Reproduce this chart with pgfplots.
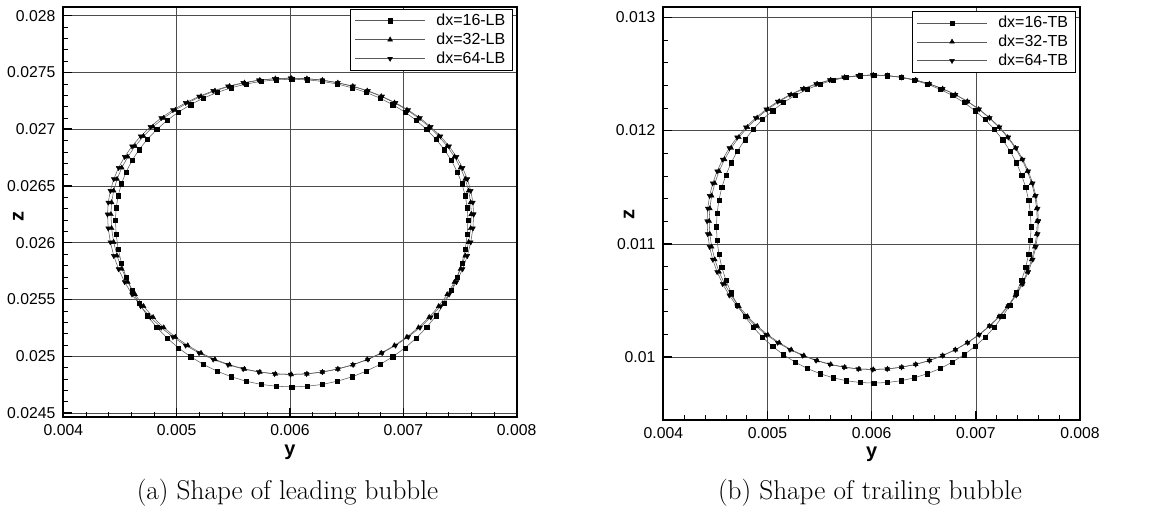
\documentclass[border=0pt]{standalone}
\usepackage{fontspec}
\usepackage{pgfplots}
\pgfplotsset{compat=1.18}
\newfontfamily\arial{Liberation Sans}
\pgfplotsset{
  bubax/.style={
    scale only axis,
    anchor=south west,
    xmin=0.004, xmax=0.008,
    xtick={0.004,0.005,0.006,0.007,0.008},
    minor x tick num=4, minor y tick num=4,
    tick align=inside, tick pos=left,
    grid=major,
    major grid style={black!70, line width=0.4pt},
    axis line style={line width=1.3pt},
    major tick style={line width=1.1pt, black},
    minor tick style={line width=0.4pt, black},
    major tick length=6.5pt, minor tick length=3.6pt,
    scaled ticks=false,
    tick label style={font=\arial\fontsize{11.8}{13}\selectfont},
    xticklabel style={yshift=-2pt},
    yticklabel style={xshift=-2.5pt},
    /pgf/number format/assume math mode=true,
    /pgf/number format/fixed, /pgf/number format/precision=4,
    label style={font=\arial\bfseries\fontsize{15}{17}\selectfont},
    xlabel={y}, ylabel={z},
    legend cell align=left,
    legend style={anchor=north east, draw=black, line width=0.6pt, fill=white,
      font=\arial\fontsize{12}{13}\selectfont, inner xsep=3.5pt, inner ysep=1.5pt,
      row sep=0pt,
      /tikz/every odd column/.append style={column sep=6.5pt}},
    legend image code/.code={\draw[mark repeat=2,mark phase=2,#1] plot coordinates {(0pt,0pt) (26pt,0pt) (52pt,0pt)};},
  },
  ser/.style={black!65, line width=0.4pt},
  s16/.style={ser, mark=square*, mark size=1.6pt, mark options={solid, fill=black, draw=black, line width=0.3pt}},
  s32/.style={ser, mark=triangle*, mark size=2.1pt, mark options={solid, fill=black, draw=black, line width=0.3pt}},
  s64/.style={ser, mark=triangle*, mark size=2.1pt, mark options={solid, fill=black, draw=black, line width=0.3pt, rotate=180}},
}
\begin{document}
\begin{tikzpicture}
\path[use as bounding box] (0,0) rectangle (861.75pt,390.75pt);
\begin{axis}[bubax,
  at={(47.5pt,78pt)}, width=340pt, height=307.3pt,
  ymin=0.024465, ymax=0.028074,
  ytick={0.0245,0.025,0.0255,0.026,0.0265,0.027,0.0275,0.028},
  xlabel style={at={(axis description cs:0.5,-0.085)}, anchor=center},
  ylabel style={at={(axis description cs:-0.099,0.49)}, anchor=center},
  legend style={at={(axis description cs:0.992,0.996)}},
]
\addplot[s16] table {
0.007570 0.026200
0.007564 0.026308
0.007546 0.026415
0.007517 0.026521
0.007476 0.026624
0.007424 0.026724
0.007362 0.026820
0.007289 0.026911
0.007206 0.026997
0.007115 0.027077
0.007015 0.027150
0.006907 0.027216
0.006793 0.027274
0.006672 0.027324
0.006547 0.027365
0.006417 0.027398
0.006285 0.027421
0.006151 0.027435
0.006015 0.027440
0.005879 0.027435
0.005745 0.027421
0.005613 0.027398
0.005483 0.027365
0.005358 0.027324
0.005237 0.027274
0.005123 0.027216
0.005015 0.027150
0.004915 0.027077
0.004824 0.026997
0.004741 0.026911
0.004668 0.026820
0.004606 0.026724
0.004554 0.026624
0.004513 0.026521
0.004484 0.026415
0.004466 0.026308
0.004460 0.026200
0.004466 0.026072
0.004484 0.025945
0.004513 0.025820
0.004554 0.025697
0.004606 0.025579
0.004668 0.025465
0.004741 0.025357
0.004824 0.025255
0.004915 0.025161
0.005015 0.025074
0.005123 0.024996
0.005237 0.024927
0.005358 0.024868
0.005483 0.024819
0.005613 0.024780
0.005745 0.024752
0.005879 0.024736
0.006015 0.024730
0.006151 0.024736
0.006285 0.024752
0.006417 0.024780
0.006547 0.024819
0.006672 0.024868
0.006793 0.024927
0.006907 0.024996
0.007015 0.025074
0.007115 0.025161
0.007206 0.025255
0.007289 0.025357
0.007362 0.025465
0.007424 0.025579
0.007476 0.025697
0.007517 0.025820
0.007546 0.025945
0.007564 0.026072
0.007570 0.026200
};
\addlegendentry{dx=16-LB}
\addplot[s32] table {
0.007600 0.026250
0.007594 0.026355
0.007576 0.026458
0.007546 0.026561
0.007504 0.026660
0.007451 0.026757
0.007387 0.026850
0.007312 0.026938
0.007228 0.027021
0.007134 0.027099
0.007032 0.027169
0.006922 0.027233
0.006805 0.027289
0.006682 0.027338
0.006554 0.027378
0.006422 0.027409
0.006286 0.027432
0.006149 0.027445
0.006010 0.027450
0.005871 0.027445
0.005734 0.027432
0.005598 0.027409
0.005466 0.027378
0.005338 0.027338
0.005215 0.027289
0.005098 0.027233
0.004988 0.027169
0.004886 0.027099
0.004792 0.027021
0.004708 0.026938
0.004633 0.026850
0.004569 0.026757
0.004516 0.026660
0.004474 0.026561
0.004444 0.026458
0.004426 0.026355
0.004420 0.026250
0.004426 0.026127
0.004444 0.026005
0.004474 0.025885
0.004516 0.025768
0.004569 0.025654
0.004633 0.025545
0.004708 0.025441
0.004792 0.025344
0.004886 0.025253
0.004988 0.025170
0.005098 0.025095
0.005215 0.025029
0.005338 0.024972
0.005466 0.024925
0.005598 0.024888
0.005734 0.024861
0.005871 0.024845
0.006010 0.024840
0.006149 0.024845
0.006286 0.024861
0.006422 0.024888
0.006554 0.024925
0.006682 0.024972
0.006805 0.025029
0.006922 0.025095
0.007032 0.025170
0.007134 0.025253
0.007228 0.025344
0.007312 0.025441
0.007387 0.025545
0.007451 0.025654
0.007504 0.025768
0.007546 0.025885
0.007576 0.026005
0.007594 0.026127
0.007600 0.026250
};
\addlegendentry{dx=32-LB}
\addplot[s64] table {
0.007620 0.026250
0.007614 0.026355
0.007595 0.026458
0.007565 0.026561
0.007523 0.026660
0.007469 0.026757
0.007404 0.026850
0.007328 0.026938
0.007242 0.027021
0.007147 0.027099
0.007043 0.027169
0.006931 0.027233
0.006813 0.027289
0.006688 0.027338
0.006557 0.027378
0.006423 0.027409
0.006285 0.027432
0.006146 0.027445
0.006005 0.027450
0.005864 0.027445
0.005725 0.027432
0.005587 0.027409
0.005453 0.027378
0.005322 0.027338
0.005197 0.027289
0.005079 0.027233
0.004967 0.027169
0.004863 0.027099
0.004768 0.027021
0.004682 0.026938
0.004606 0.026850
0.004541 0.026757
0.004487 0.026660
0.004445 0.026561
0.004415 0.026458
0.004396 0.026355
0.004390 0.026250
0.004396 0.026127
0.004415 0.026005
0.004445 0.025885
0.004487 0.025768
0.004541 0.025654
0.004606 0.025545
0.004682 0.025441
0.004768 0.025344
0.004863 0.025253
0.004967 0.025170
0.005079 0.025095
0.005197 0.025029
0.005322 0.024972
0.005453 0.024925
0.005587 0.024888
0.005725 0.024861
0.005864 0.024845
0.006005 0.024840
0.006146 0.024845
0.006285 0.024861
0.006423 0.024888
0.006557 0.024925
0.006688 0.024972
0.006813 0.025029
0.006931 0.025095
0.007043 0.025170
0.007147 0.025253
0.007242 0.025344
0.007328 0.025441
0.007404 0.025545
0.007469 0.025654
0.007523 0.025768
0.007565 0.025885
0.007595 0.026005
0.007614 0.026127
0.007620 0.026250
};
\addlegendentry{dx=64-LB}
\end{axis}
\begin{axis}[bubax,
  at={(497.5pt,75.75pt)}, width=312.5pt, height=309.5pt,
  ymin=0.009444, ymax=0.013088,
  ytick={0.01,0.011,0.012,0.013},
  xlabel style={at={(axis description cs:0.5,-0.082)}, anchor=center},
  ylabel style={at={(axis description cs:-0.082,0.498)}, anchor=center},
  legend style={at={(axis description cs:0.99,0.991)}},
]
\addplot[s16] table {
0.007530 0.011150
0.007524 0.011267
0.007507 0.011383
0.007479 0.011497
0.007439 0.011608
0.007389 0.011716
0.007328 0.011820
0.007257 0.011919
0.007177 0.012011
0.007088 0.012098
0.006991 0.012176
0.006886 0.012248
0.006775 0.012310
0.006658 0.012364
0.006536 0.012409
0.006411 0.012444
0.006282 0.012470
0.006152 0.012485
0.006020 0.012490
0.005888 0.012485
0.005758 0.012470
0.005629 0.012444
0.005504 0.012409
0.005382 0.012364
0.005265 0.012310
0.005154 0.012248
0.005049 0.012176
0.004952 0.012098
0.004863 0.012011
0.004783 0.011919
0.004712 0.011820
0.004651 0.011716
0.004601 0.011608
0.004561 0.011497
0.004533 0.011383
0.004516 0.011267
0.004510 0.011150
0.004516 0.011030
0.004533 0.010910
0.004561 0.010793
0.004601 0.010678
0.004651 0.010567
0.004712 0.010460
0.004783 0.010358
0.004863 0.010263
0.004952 0.010174
0.005049 0.010093
0.005154 0.010020
0.005265 0.009955
0.005382 0.009899
0.005504 0.009853
0.005629 0.009817
0.005758 0.009791
0.005888 0.009775
0.006020 0.009770
0.006152 0.009775
0.006282 0.009791
0.006411 0.009817
0.006536 0.009853
0.006658 0.009899
0.006775 0.009955
0.006886 0.010020
0.006991 0.010093
0.007088 0.010174
0.007177 0.010263
0.007257 0.010358
0.007328 0.010460
0.007389 0.010567
0.007439 0.010678
0.007479 0.010793
0.007507 0.010910
0.007524 0.011030
0.007530 0.011150
};
\addlegendentry{dx=16-TB}
\addplot[s32] table {
0.007590 0.011200
0.007584 0.011312
0.007566 0.011424
0.007536 0.011534
0.007495 0.011641
0.007442 0.011745
0.007379 0.011845
0.007305 0.011940
0.007222 0.012029
0.007129 0.012112
0.007027 0.012188
0.006918 0.012257
0.006803 0.012317
0.006681 0.012369
0.006554 0.012412
0.006423 0.012446
0.006289 0.012470
0.006152 0.012485
0.006015 0.012490
0.005878 0.012485
0.005741 0.012470
0.005607 0.012446
0.005476 0.012412
0.005349 0.012369
0.005227 0.012317
0.005112 0.012257
0.005003 0.012188
0.004901 0.012112
0.004808 0.012029
0.004725 0.011940
0.004651 0.011845
0.004588 0.011745
0.004535 0.011641
0.004494 0.011534
0.004464 0.011424
0.004446 0.011312
0.004440 0.011200
0.004446 0.011086
0.004464 0.010973
0.004494 0.010861
0.004535 0.010752
0.004588 0.010646
0.004651 0.010545
0.004725 0.010449
0.004808 0.010358
0.004901 0.010274
0.005003 0.010196
0.005112 0.010127
0.005227 0.010065
0.005349 0.010013
0.005476 0.009969
0.005607 0.009935
0.005741 0.009910
0.005878 0.009895
0.006015 0.009890
0.006152 0.009895
0.006289 0.009910
0.006423 0.009935
0.006554 0.009969
0.006681 0.010013
0.006803 0.010065
0.006918 0.010127
0.007027 0.010196
0.007129 0.010274
0.007222 0.010358
0.007305 0.010449
0.007379 0.010545
0.007442 0.010646
0.007495 0.010752
0.007536 0.010861
0.007566 0.010973
0.007584 0.011086
0.007590 0.011200
};
\addlegendentry{dx=32-TB}
\addplot[s64] table {
0.007600 0.011200
0.007594 0.011312
0.007576 0.011424
0.007546 0.011534
0.007504 0.011641
0.007451 0.011745
0.007387 0.011845
0.007312 0.011940
0.007228 0.012029
0.007134 0.012112
0.007032 0.012188
0.006922 0.012257
0.006805 0.012317
0.006682 0.012369
0.006554 0.012412
0.006422 0.012446
0.006286 0.012470
0.006149 0.012485
0.006010 0.012490
0.005871 0.012485
0.005734 0.012470
0.005598 0.012446
0.005466 0.012412
0.005338 0.012369
0.005215 0.012317
0.005098 0.012257
0.004988 0.012188
0.004886 0.012112
0.004792 0.012029
0.004708 0.011940
0.004633 0.011845
0.004569 0.011745
0.004516 0.011641
0.004474 0.011534
0.004444 0.011424
0.004426 0.011312
0.004420 0.011200
0.004426 0.011086
0.004444 0.010973
0.004474 0.010861
0.004516 0.010752
0.004569 0.010646
0.004633 0.010545
0.004708 0.010449
0.004792 0.010358
0.004886 0.010274
0.004988 0.010196
0.005098 0.010127
0.005215 0.010065
0.005338 0.010013
0.005466 0.009969
0.005598 0.009935
0.005734 0.009910
0.005871 0.009895
0.006010 0.009890
0.006149 0.009895
0.006286 0.009910
0.006422 0.009935
0.006554 0.009969
0.006682 0.010013
0.006805 0.010065
0.006922 0.010127
0.007032 0.010196
0.007134 0.010274
0.007228 0.010358
0.007312 0.010449
0.007387 0.010545
0.007451 0.010646
0.007504 0.010752
0.007546 0.010861
0.007576 0.010973
0.007594 0.011086
0.007600 0.011200
};
\addlegendentry{dx=64-TB}
\end{axis}
\node[anchor=center, font=\fontsize{20.4}{24}\selectfont] at (215.6pt,21.5pt) {(a) Shape of leading bubble};
\node[anchor=center, font=\fontsize{20.4}{24}\selectfont] at (652.5pt,21.5pt) {(b) Shape of trailing bubble};
\end{tikzpicture}
\end{document}
